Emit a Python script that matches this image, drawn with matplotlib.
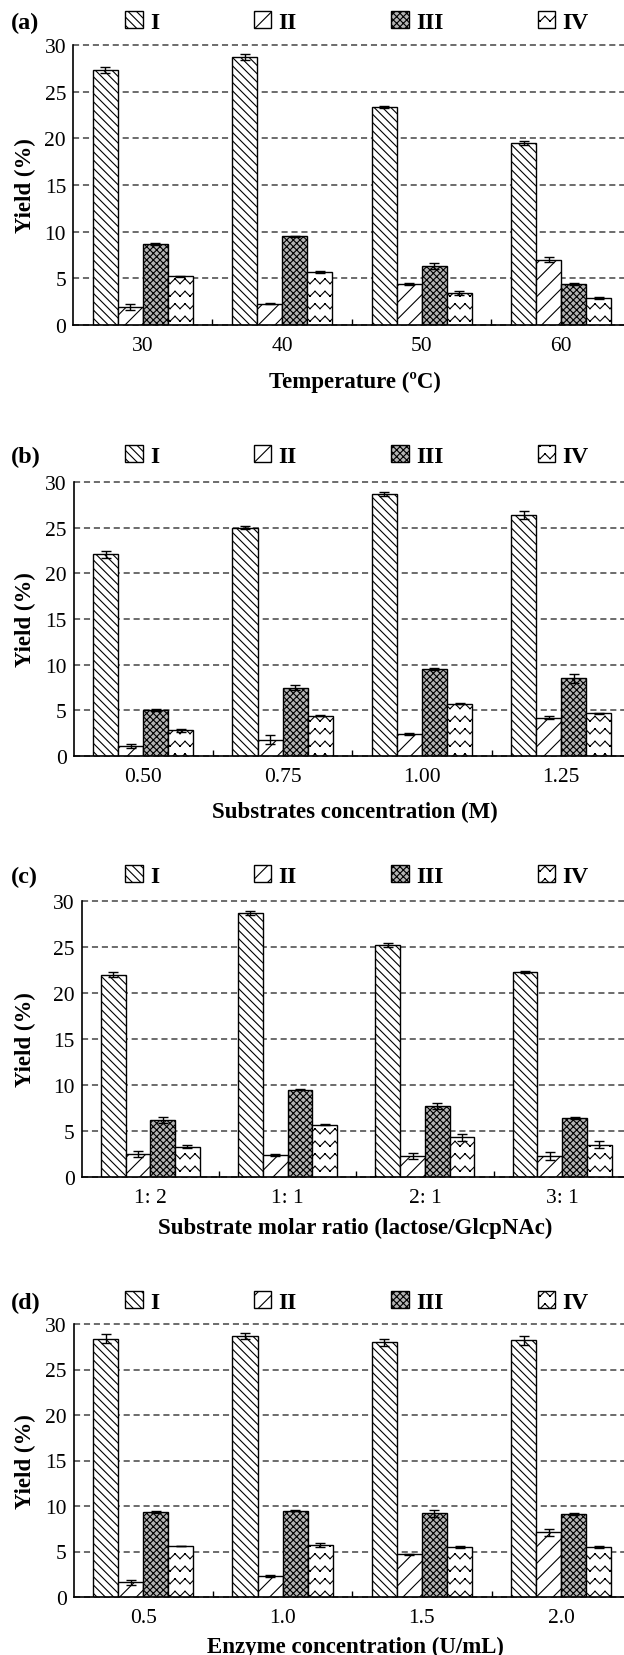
import warnings
import numpy as np
import matplotlib
matplotlib.use('Agg')
import matplotlib.pyplot as plt
import matplotlib.hatch as mhatch
from matplotlib.path import Path

warnings.filterwarnings('ignore')

# ---- data ----
series = ['I', 'II', 'III', 'IV']

temp_labels = ['30', '40', '50', '60']
temp_yield = [[27.3, 28.7, 23.4, 19.5],
              [1.9, 2.3, 4.4, 7.0],
              [8.7, 9.5, 6.3, 4.4],
              [5.2, 5.7, 3.4, 2.9]]
temp_err = [[0.3, 0.3, 0.1, 0.2],
            [0.3, 0.1, 0.1, 0.3],
            [0.1, 0.05, 0.3, 0.1],
            [0.05, 0.1, 0.2, 0.1]]

conc_labels = ['0.50', '0.75', '1.00', '1.25']
conc_yield = [[22.1, 25.0, 28.7, 26.4],
              [1.1, 1.8, 2.4, 4.2],
              [5.0, 7.5, 9.5, 8.5],
              [2.8, 4.4, 5.7, 4.7]]
conc_err = [[0.4, 0.2, 0.2, 0.4],
            [0.2, 0.5, 0.1, 0.2],
            [0.1, 0.3, 0.1, 0.5],
            [0.2, 0.05, 0.05, 0.05]]

ratio_labels = ['1: 2', '1: 1', '2: 1', '3: 1']
ratio_yield = [[22.0, 28.7, 25.2, 22.3],
               [2.5, 2.4, 2.3, 2.3],
               [6.2, 9.5, 7.7, 6.4],
               [3.3, 5.7, 4.3, 3.5]]
ratio_err = [[0.3, 0.2, 0.2, 0.1],
             [0.3, 0.1, 0.3, 0.4],
             [0.3, 0.05, 0.3, 0.1],
             [0.2, 0.05, 0.4, 0.4]]

enz_labels = ['0.5', '1.0', '1.5', '2.0']
enz_yield = [[28.4, 28.7, 28.0, 28.2],
             [1.6, 2.3, 4.7, 7.1],
             [9.3, 9.5, 9.2, 9.1],
             [5.6, 5.7, 5.5, 5.5]]
enz_err = [[0.5, 0.3, 0.4, 0.5],
           [0.3, 0.1, 0.05, 0.4],
           [0.1, 0.1, 0.4, 0.1],
           [0.05, 0.2, 0.1, 0.1]]

panels = [
    ('(a)', 'Temperature (ºC)', temp_labels, temp_yield, temp_err),
    ('(b)', 'Substrates concentration (M)', conc_labels, conc_yield, conc_err),
    ('(c)', 'Substrate molar ratio (lactose/GlcpNAc)', ratio_labels, ratio_yield, ratio_err),
    ('(d)', 'Enzyme concentration (U/mL)', enz_labels, enz_yield, enz_err),
]


# zigzag hatch for series IV (not built in); each stroke is its own
# two-point subpath so agg does not fill it
class ZigZagHatch(mhatch.HatchPatternBase):
    def __init__(self, hatch, density):
        self.num_rows = int(hatch.count('z') * density * 0.7)
        self.num_teeth = self.num_rows + 2
        self.num_vertices = self.num_rows * self.num_teeth * 4

    def set_vertices_and_codes(self, vertices, codes):
        n = 2 * self.num_teeth + 1
        xs = np.linspace(0.0, 1.0, n)
        amp = 0.2 / self.num_rows
        sign = np.where(np.arange(n) % 2, 1.0, -1.0)
        i0 = 0
        for i in range(self.num_rows):
            ys = (i + 0.5) / self.num_rows + amp * sign
            for j in range(n - 1):
                vertices[i0] = xs[j], ys[j]
                vertices[i0 + 1] = xs[j + 1], ys[j + 1]
                codes[i0] = Path.MOVETO
                codes[i0 + 1] = Path.LINETO
                i0 += 2


mhatch._hatch_types.append(ZigZagHatch)

hatches = ['\\\\\\\\', '//', 'xxxxx', 'zz']
faces = ['white', 'white', '#b4b4b4', 'white']

plt.rcParams['font.family'] = ['Liberation Serif', 'DejaVu Serif']
plt.rcParams['hatch.linewidth'] = 0.8

W, H = 624, 1656
fig = plt.figure(figsize=(W / 100, H / 100), dpi=100)

# pixel layout: axes left, y=30 line, y=0 line, legend y, xlabel y
layout = [
    (73, 46, 326, 23, 382),
    (73.6, 483, 757, 457, 812),
    (81.6, 902, 1178, 877, 1228),
    (73.6, 1325, 1598, 1303, 1647),
]

x = np.arange(4)
width = 0.18

for (tag, xlab, ticks, vals, errs), (left, top, bottom, leg_y, xl_y) in zip(panels, layout):
    ax = fig.add_axes([left / W, 1 - bottom / H, (W - left) / W, (bottom - top) / H])
    handles = []
    for k in range(4):
        b = ax.bar(x + (k - 1.5) * width, vals[k], width, yerr=errs[k],
                   color=faces[k], edgecolor='black', linewidth=1.0,
                   hatch=hatches[k], capsize=3.5,
                   error_kw=dict(elinewidth=1.0, capthick=1.0, ecolor='black'))
        handles.append(b)

    ax.set_xlim(-0.5, 3.45)
    ax.set_ylim(0, 30)
    ax.set_yticks([0, 5, 10, 15, 20, 25, 30])
    ax.set_xticks(x)
    ax.set_xticklabels(ticks)
    ax.set_xticks([0.5, 1.5, 2.5], minor=True)
    ax.tick_params(axis='x', which='major', length=0, pad=8, labelsize=15.5)
    ax.tick_params(axis='x', which='minor', direction='in', length=4, width=1)
    ax.tick_params(axis='y', length=0, pad=5, labelsize=15.5)

    ax.spines['top'].set_visible(False)
    ax.spines['right'].set_visible(False)
    ax.spines['left'].set_linewidth(1.2)
    ax.spines['bottom'].set_linewidth(1.2)

    ax.set_axisbelow(True)
    ax.yaxis.grid(True, linestyle=(0, (4, 2.5)), color='#444444', linewidth=1.1)
    for gl in ax.get_ygridlines():
        gl.set_clip_on(False)

    ax.set_ylabel('Yield (%)', fontsize=16.5, fontweight='bold')
    ax.yaxis.set_label_coords((25 - left) / (W - left), 0.5)
    ax.yaxis.label.set_va('center')

    ax.set_xlabel(xlab, fontsize=16.5, fontweight='bold')
    ax.xaxis.set_label_coords((355 - left) / (W - left), (bottom - xl_y) / (bottom - top))
    ax.xaxis.label.set_va('center')

    ax.legend(handles, series, loc='center', ncol=4, frameon=False,
              bbox_to_anchor=(357 / W, 1 - leg_y / H), bbox_transform=fig.transFigure,
              prop={'weight': 'bold', 'size': 17}, handlelength=0.75, handleheight=0.7,
              handletextpad=0.3, columnspacing=4.0, borderpad=0)

    fig.text(11 / W, 1 - leg_y / H, tag, fontsize=17.5, fontweight='bold', va='center')

fig.savefig('out.png', dpi=100)
